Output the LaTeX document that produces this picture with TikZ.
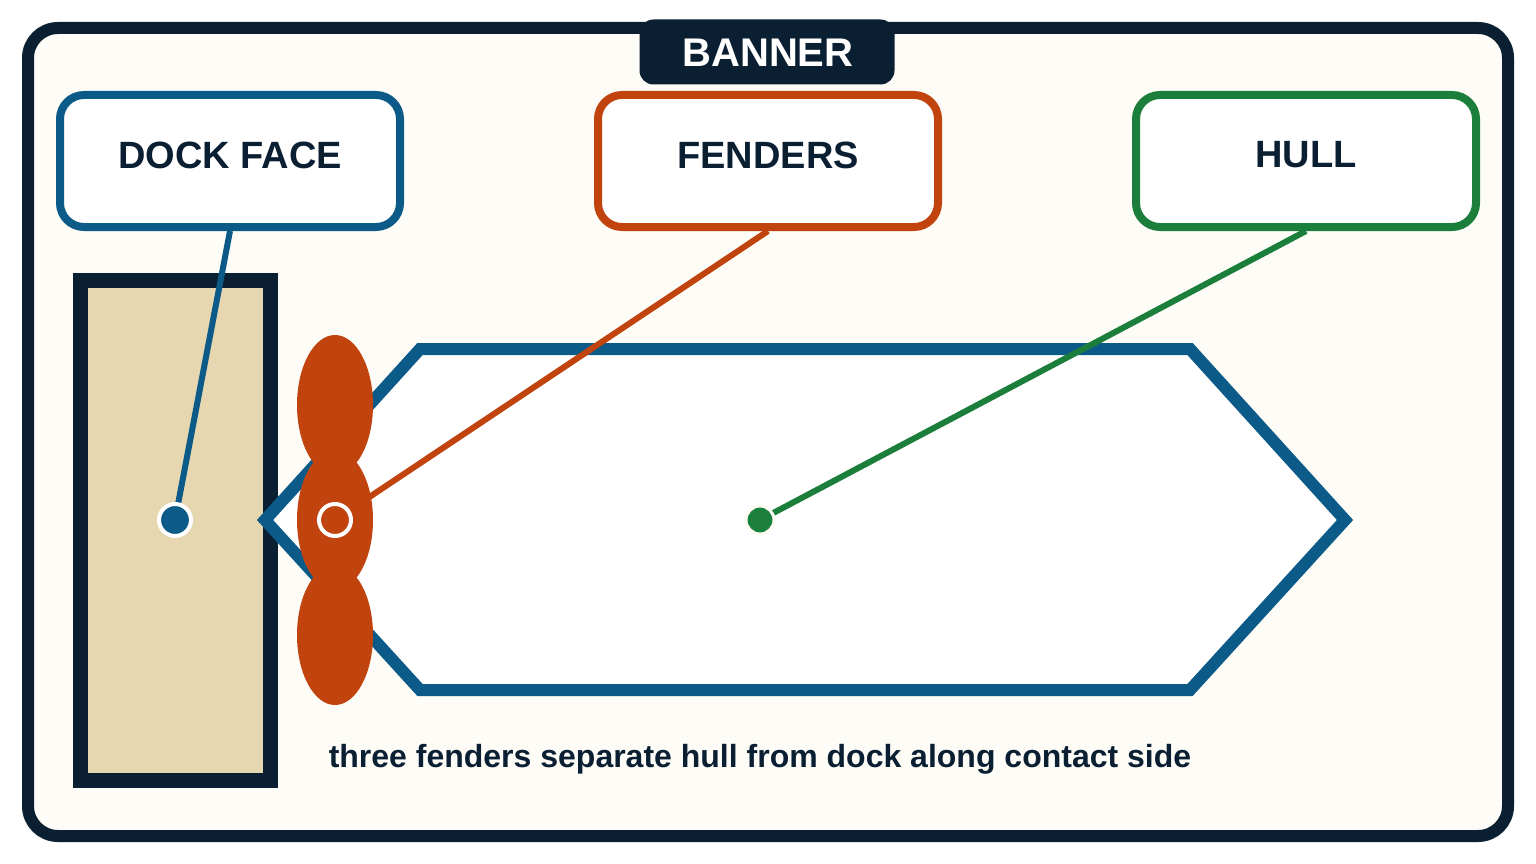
\documentclass[tikz,border=0pt]{standalone}
\usepackage{fontspec}
\setmainfont{Liberation Sans}
\definecolor{navy}{HTML}{0B1F33}
\definecolor{bl}{HTML}{0B5A87}
\definecolor{org}{HTML}{C1440E}
\definecolor{grn}{HTML}{1B7F3B}
\definecolor{sand}{HTML}{E6D7B0}
\definecolor{paper}{HTML}{FDFCF7}
\begin{document}
\begin{tikzpicture}[x=1pt,y=-1pt,
 lbl/.style={draw=#1,line width=8pt,rounded corners=24pt,fill=white,minimum width=340pt,minimum height=132pt},
 ltxt/.style={font=\fontsize{38}{42}\selectfont\bfseries,text=navy},
 lead/.style={line width=6pt,draw=#1}]
\useasboundingbox (0,0) rectangle (1536,864);
\fill[white] (0,0) rectangle (1536,864);
\draw[navy,line width=12pt,fill=paper,rounded corners=30pt] (28,28) rectangle (1508,836);
\node[fill=navy,rounded corners=14pt,minimum width=255pt,minimum height=65pt] (banner) at (767,52) {};
\node[text=white,font=\fontsize{40}{44}\selectfont\bfseries] (bannertxt) at (768,53) {BANNER};
\node[lbl=bl] (dock) at (230,161) {};
\node[lbl=org] (fen) at (768,161) {};
\node[lbl=grn] (hull) at (1306,161) {};
\node[ltxt] (docktxt) at (230,155) {DOCK FACE};
\node[ltxt] (fentxt) at (768,155) {FENDERS};
\node[ltxt] (hulltxt) at (1306,155) {HULL};
\draw[navy,line width=15pt,fill=sand] (80,280) rectangle (270,780);
\draw[bl,line width=12pt,fill=white,line join=miter] (265,520) -- (420,349) -- (1190,349) -- (1345,520) -- (1190,690) -- (420,690) -- cycle;
\fill[org] (335,405) ellipse [x radius=38,y radius=70];
\fill[org] (335,635) ellipse [x radius=38,y radius=70];
\fill[org] (335,520) ellipse [x radius=38,y radius=70];
\coordinate (pd) at (175,520);
\coordinate (pf) at (335,520);
\coordinate (ph) at (760,520);
\draw[lead=bl] (dock.south) -- (pd);
\draw[lead=org] (fen.south) -- (pf);
\draw[lead=grn] (hull.south) -- (ph);
\node[circle,fill=bl,draw=white,line width=4pt,minimum size=32pt,inner sep=0] (dd) at (pd) {};
\node[circle,fill=org,draw=white,line width=4pt,minimum size=32pt,inner sep=0] (fd) at (pf) {};
\node[circle,fill=grn,draw=paper,line width=3pt,minimum size=28pt,inner sep=0] (hd) at (ph) {};
\node[font=\fontsize{32}{36}\selectfont\bfseries,text=navy] (cap) at (760,759) {three fenders separate hull from dock along contact side};
\end{tikzpicture}
\end{document}
